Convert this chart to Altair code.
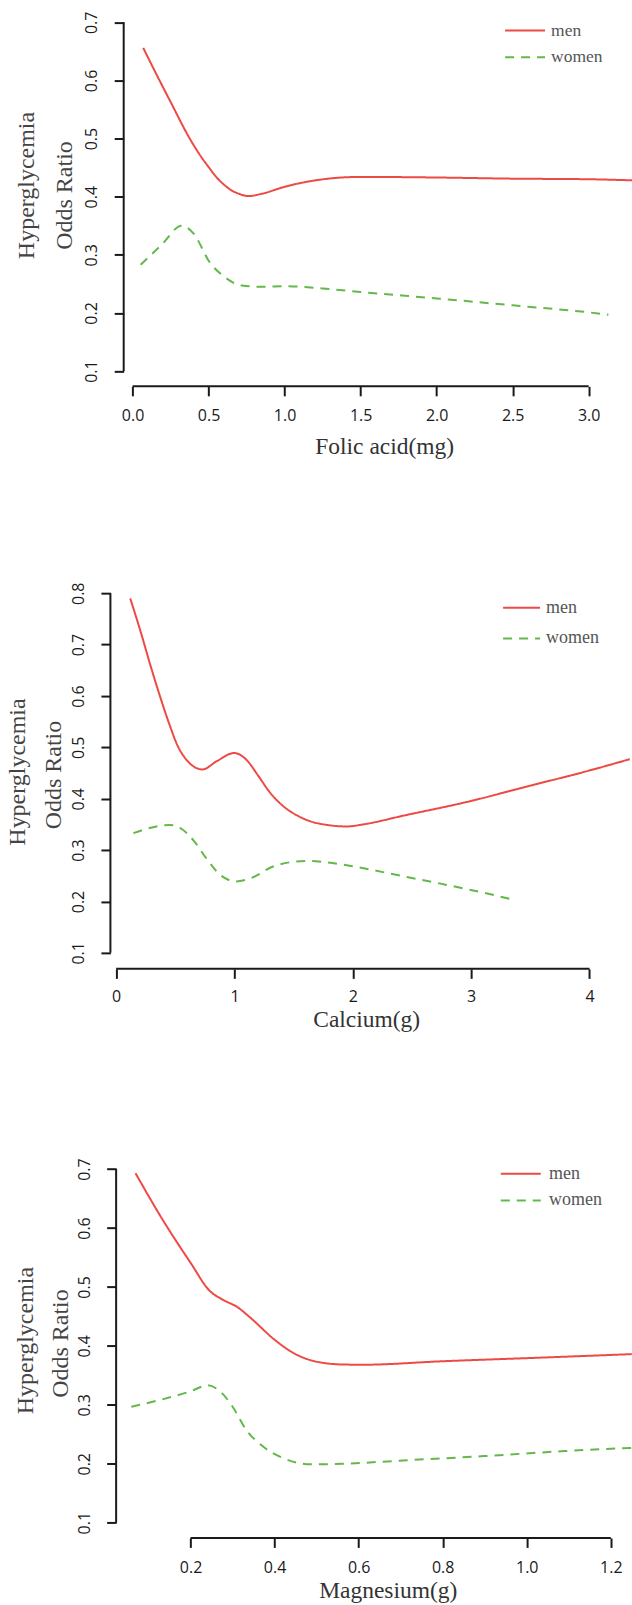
import altair as alt
import pandas as pd

# ---------------- data ----------------
SEXES = ["men", "women"]

folic_men_x = [0.07, 0.15, 0.25, 0.376, 0.45, 0.5, 0.55, 0.6, 0.65, 0.7, 0.76, 0.85, 1.0, 1.2, 1.5, 2.0, 2.5, 3.0, 3.3]
folic_men_y = [0.656, 0.614, 0.563, 0.500, 0.469, 0.451, 0.434, 0.421, 0.411, 0.405, 0.401, 0.405, 0.417, 0.428, 0.434, 0.433, 0.431, 0.430, 0.428]
folic_women_x = [0.053, 0.19, 0.323, 0.40, 0.51, 0.60, 0.72, 0.85, 1.0, 1.25, 1.5, 2.0, 2.5, 3.0, 3.13]
folic_women_y = [0.283, 0.317, 0.350, 0.337, 0.286, 0.263, 0.247, 0.245, 0.246, 0.242, 0.236, 0.225, 0.213, 0.201, 0.197]

calcium_men_x = [0.119, 0.214, 0.283, 0.37, 0.45, 0.52, 0.59, 0.66, 0.73, 0.85, 0.997, 1.1, 1.2, 1.3, 1.4,
                 1.576, 1.815, 1.95, 2.087, 2.427, 3.006, 3.45, 4.0, 4.34]
calcium_men_y = [0.790, 0.720, 0.665, 0.600, 0.545, 0.503, 0.477, 0.462, 0.457, 0.473, 0.489, 0.476, 0.445, 0.412, 0.388,
                 0.362, 0.348, 0.346, 0.350, 0.367, 0.396, 0.4225, 0.455, 0.477]
calcium_women_x = [0.146, 0.453, 0.555, 0.657, 0.759, 0.878, 1.014, 1.134, 1.338, 1.61, 1.746, 1.985, 2.427, 3.006, 3.33]
calcium_women_y = [0.333, 0.349, 0.341, 0.318, 0.285, 0.252, 0.239, 0.245, 0.269, 0.279, 0.277, 0.269, 0.249, 0.222, 0.205]

magnesium_men_x = [0.069, 0.131, 0.2, 0.246, 0.275, 0.313, 0.342, 0.399, 0.447, 0.495, 0.562, 0.61, 0.802, 0.994, 1.25]
magnesium_men_y = [0.693, 0.617, 0.541, 0.493, 0.479, 0.465, 0.448, 0.411, 0.387, 0.374, 0.3684, 0.368, 0.374, 0.379, 0.386]
magnesium_women_x = [0.059, 0.2, 0.241, 0.27, 0.299, 0.332, 0.371, 0.419, 0.486, 0.562, 0.706, 0.898, 1.09, 1.25]
magnesium_women_y = [0.2966, 0.323, 0.333, 0.323, 0.298, 0.258, 0.230, 0.210, 0.199, 0.200, 0.2056, 0.213, 0.2215, 0.227]

folic_xticks = [0.0, 0.5, 1.0, 1.5, 2.0, 2.5, 3.0]
calcium_xticks = [0, 1, 2, 3, 4]
magnesium_xticks = [0.2, 0.4, 0.6, 0.8, 1.0, 1.2]
yticks_07 = [0.1, 0.2, 0.3, 0.4, 0.5, 0.6, 0.7]
yticks_08 = [0.1, 0.2, 0.3, 0.4, 0.5, 0.6, 0.7, 0.8]

Y_TITLE = ["Hyperglycemia", "Odds Ratio"]

# ---------------- style ----------------
RED = "#EE4A45"
GREEN = "#62B84A"
COLORS = [RED, GREEN]
DASHES = [[1, 0], [9, 7]]
AX = "#1a1a1a"
SERIF = "Liberation Serif"
SANS = "Open Sans"
PLOT_W = 522


def panel(men_x, men_y, women_x, women_y, xdom, ydom, xticks, yticks, xfmt, xtitle,
          height, axis_x, x_title_x, x_title_y, x_lab_pad, y_title_xs, y_title_ys,
          leg_x0, leg_x1, leg_tx, leg_ys, leg_font):
    df = pd.DataFrame({
        "x": list(men_x) + list(women_x),
        "y": list(men_y) + list(women_y),
        "sex": ["men"] * len(men_x) + ["women"] * len(women_x),
    })
    xs = alt.Scale(domain=xdom, nice=False, zero=False)
    ys = alt.Scale(domain=ydom, nice=False, zero=False)
    ypos = (axis_x - xdom[0]) / (xdom[1] - xdom[0]) * PLOT_W

    lines = alt.Chart(df).mark_line(clip=True, strokeWidth=2, interpolate="monotone").encode(
        x=alt.X("x:Q", scale=xs, axis=alt.Axis(
            values=xticks, format=xfmt, domain=False, grid=False,
            tickSize=9.5, tickWidth=2, tickColor=AX,
            labelFont=SANS, labelFontSize=16, labelColor="#1a1a1a",
            labelPadding=x_lab_pad, labelFlush=False, labelOverlap=False,
            title=xtitle, titleFont=SERIF, titleFontSize=23.5, titleFontWeight="normal",
            titleColor="#333333", titleX=x_title_x, titleY=x_title_y,
            titleAlign="center", titleBaseline="middle")),
        y=alt.Y("y:Q", scale=ys, axis=alt.Axis(
            values=yticks, format=".1f", domain=False, grid=False, offset=-ypos,
            tickSize=9.5, tickWidth=2, tickColor=AX,
            labelFont=SANS, labelFontSize=16, labelColor="#1a1a1a",
            labelAngle=270, labelAlign="center", labelBaseline="bottom",
            labelPadding=14.5, labelFlush=False, labelOverlap=False, title=None)),
        color=alt.Color("sex:N", scale=alt.Scale(domain=SEXES, range=COLORS), legend=None),
        strokeDash=alt.StrokeDash("sex:N", scale=alt.Scale(domain=SEXES, range=DASHES), legend=None),
    )

    one = pd.DataFrame({"k": [0]})
    layers = [lines]
    layers.append(alt.Chart(one).mark_rule(strokeWidth=2, color=AX).encode(
        x=alt.datum(xticks[0]), x2=alt.datum(xticks[-1]), y=alt.datum(ydom[0])))
    layers.append(alt.Chart(one).mark_rule(strokeWidth=2, color=AX).encode(
        x=alt.datum(axis_x), y=alt.datum(yticks[0]), y2=alt.datum(yticks[-1])))

    # two-line y title
    for line, tx, ty in zip(Y_TITLE, y_title_xs, y_title_ys):
        layers.append(alt.Chart(one).mark_text(
            angle=270, align="center", baseline="middle", font=SERIF, fontSize=24, color="#444444"
        ).encode(x=alt.value(tx), y=alt.value(ty), text=alt.value(line)))

    # legend (top right)
    for i, s in enumerate(SEXES):
        layers.append(alt.Chart(one).mark_rule(strokeWidth=2, color=COLORS[i], strokeDash=DASHES[i]).encode(
            x=alt.value(leg_x0), x2=alt.value(leg_x1), y=alt.value(leg_ys[i])))
        layers.append(alt.Chart(one).mark_text(
            align="left", baseline="middle", font=SERIF, fontSize=leg_font, color="#555555"
        ).encode(x=alt.value(leg_tx), y=alt.value(leg_ys[i]), text=alt.value(s)))

    return alt.layer(*layers).properties(width=PLOT_W, height=height)


p1 = panel(folic_men_x, folic_men_y, folic_women_x, folic_women_y,
           xdom=[-0.1459, 3.2853], ydom=[0.0737, 0.7373], xticks=folic_xticks, yticks=yticks_07,
           xfmt=".1f", xtitle="Folic acid(mg)", height=386, axis_x=-0.0585,
           x_title_x=274, x_title_y=60, x_lab_pad=12,
           y_title_xs=[-83.5, -45.5], y_title_ys=[185, 195],
           leg_x0=395, leg_x1=435, leg_tx=441, leg_ys=[30, 56.7], leg_font=17.5)

p2 = panel(calcium_men_x, calcium_men_y, calcium_women_x, calcium_women_y,
           xdom=[-0.0481, 4.3588], ydom=[0.0688, 0.8721], xticks=calcium_xticks, yticks=yticks_08,
           xfmt="d", xtitle="Calcium(g)", height=413, axis_x=-0.0481,
           x_title_x=256, x_title_y=51, x_lab_pad=10,
           y_title_xs=[-92, -56.5], y_title_ys=[216, 219],
           leg_x0=393, leg_x1=430, leg_tx=436, leg_ys=[51.7, 82.3], leg_font=18)

p3 = panel(magnesium_men_x, magnesium_men_y, magnesium_women_x, magnesium_women_y,
           xdom=[0.0093, 1.2504], ydom=[0.0742, 0.7514], xticks=magnesium_xticks, yticks=yticks_07,
           xfmt=".1f", xtitle="Magnesium(g)", height=399.5, axis_x=0.0229,
           x_title_x=277.6, x_title_y=52.5, x_lab_pad=12,
           y_title_xs=[-84, -49], y_title_ys=[202, 205],
           leg_x0=390.7, leg_x1=430.7, leg_tx=439, leg_ys=[35, 61.7], leg_font=18)

chart = alt.vconcat(p1, p2, p3, spacing=170, bounds="flush").properties(
    padding={"left": 6.5, "top": 0, "right": 0, "bottom": 0},
    background="white",
).configure_view(stroke=None)

chart.save("out.html", embed_options={"renderer": "svg", "actions": False})
